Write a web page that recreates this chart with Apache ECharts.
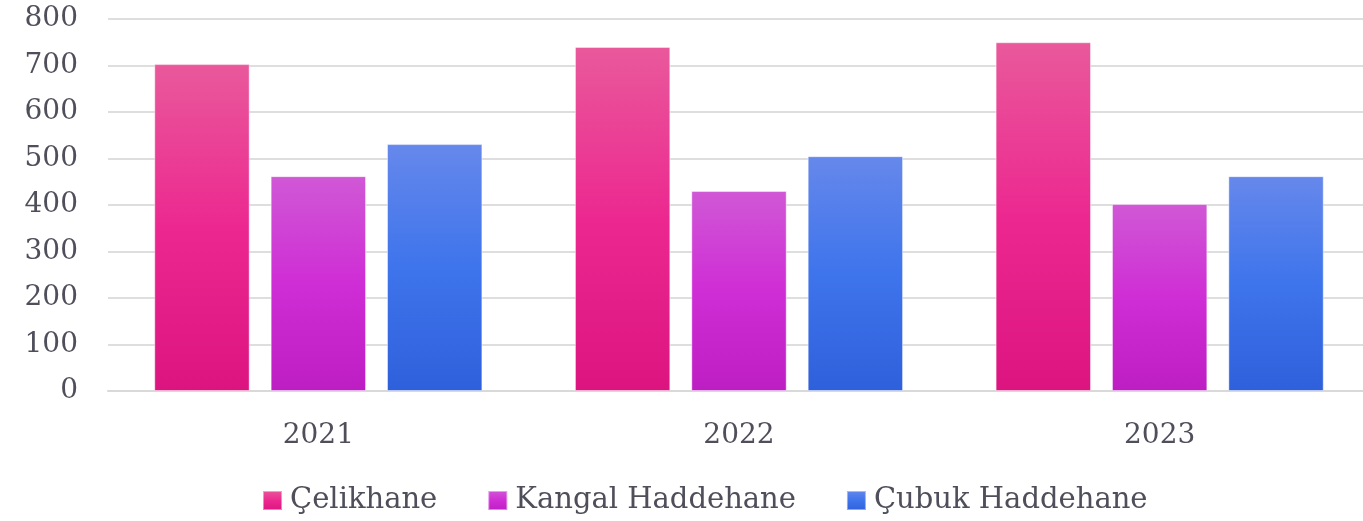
<!DOCTYPE html>
<html>
<head>
<meta charset="utf-8">
<script src="https://cdn.jsdelivr.net/npm/echarts@6/dist/echarts.min.js"></script>
<style>
    html, body {margin: 0; padding: 0; background: #fff;}
    #chart0 {width: 1363px; height: 521px;}
</style>
</head>
<body>
<div id="chart0"></div>
<script>
var years = ['2021', '2022', '2023'];
var celikhane = [703, 740, 750];
var kangal = [462, 430, 402];
var cubuk = [531, 505, 462];
var yTicks = [0, 100, 200, 300, 400, 500, 600, 700, 800];

function grad(top, mid, bottom) {
    return new echarts.graphic.LinearGradient(0, 0, 0, 1, [
        {offset: 0, color: top},
        {offset: 0.5, color: mid},
        {offset: 1, color: bottom}
    ]);
}

var font = 'DejaVu Serif';
var textColor = '#4f4f5b';

var option0 = {
    animation: false,
    grid: {left: 108, width: 1262, top: 19, height: 372, containLabel: false, outerBoundsMode: 'none'},
    legend: {
        left: 257,
        top: 481,
        icon: 'rect',
        itemWidth: 19,
        itemHeight: 19,
        itemGap: 50,
        textStyle: {fontFamily: font, fontSize: 29, color: textColor, padding: [0, 0, 0, 3]},
        data: ['Çelikhane', 'Kangal Haddehane', 'Çubuk Haddehane']
    },
    xAxis: {
        type: 'category',
        data: years,
        axisLine: {lineStyle: {color: '#d9d9d9', width: 2}},
        axisTick: {show: false},
        axisLabel: {fontFamily: font, fontSize: 28, color: textColor, margin: 31}
    },
    yAxis: {
        type: 'value',
        min: yTicks[0],
        max: yTicks[yTicks.length - 1],
        interval: 100,
        axisLine: {show: false},
        axisTick: {show: false},
        splitLine: {lineStyle: {color: '#dedede', width: 2}},
        axisLabel: {fontFamily: font, fontSize: 28, color: textColor, margin: 30}
    },
    series: [
        {
            name: 'Çelikhane',
            type: 'bar',
            barGap: '22%',
            barCategoryGap: '22%',
            data: celikhane,
            itemStyle: {
                color: grad('#e9599b', '#ec2890', '#dc1480'),
                borderColor: 'rgba(255,255,255,0.45)',
                borderWidth: 1
            }
        },
        {
            name: 'Kangal Haddehane',
            type: 'bar',
            data: kangal,
            itemStyle: {
                color: grad('#d058d5', '#cf2dd5', '#bd1ec3'),
                borderColor: 'rgba(255,255,255,0.45)',
                borderWidth: 1
            }
        },
        {
            name: 'Çubuk Haddehane',
            type: 'bar',
            data: cubuk,
            itemStyle: {
                color: grad('#6688eb', '#3e74ec', '#2f60db'),
                borderColor: 'rgba(255,255,255,0.45)',
                borderWidth: 1
            }
        }
    ]
};

var myChart0 = echarts.init(document.getElementById('chart0'));
myChart0.setOption(option0);
</script>
</body>
</html>
